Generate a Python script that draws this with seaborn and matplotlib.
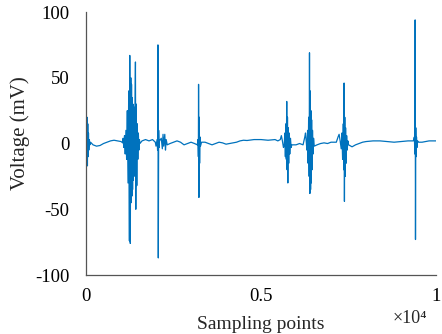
import matplotlib
matplotlib.use('Agg')
import matplotlib.pyplot as plt
import seaborn as sns
import pandas as pd

# Waveform: sample index and voltage (mV)
samples = [
    0, 10, 20, 30, 40, 50, 60, 70, 80, 95, 110, 130,
    200, 300, 400, 500, 600, 700, 800, 900, 1000, 1050,
    1060, 1080, 1100, 1120, 1140, 1160, 1180, 1200, 1220, 1240, 1250, 1265,
    1280, 1290, 1300, 1310, 1320, 1330, 1340, 1350, 1360, 1370, 1380, 1390,
    1400, 1412, 1422, 1435, 1450, 1465, 1480, 1495, 1510, 1525, 1540,
    1600, 1700, 1800, 1900, 1980, 2000,
    2030, 2045, 2055, 2065, 2075, 2085, 2100, 2150, 2180, 2200, 2220, 2250,
    2270, 2290, 2320,
    2400, 2500, 2600, 2700, 2800, 2900, 3000, 3100, 3180,
    3200, 3210, 3215, 3225, 3235, 3245, 3255, 3270, 3300,
    3400, 3500, 3600, 3700, 3800, 3900, 4000, 4200, 4300, 4400, 4500, 4600,
    4800, 5000, 5200, 5400, 5480,
    5550, 5580, 5610, 5640, 5660, 5680, 5695, 5710, 5722, 5734, 5745, 5755,
    5765, 5775, 5790, 5805, 5820, 5840, 5860, 5880,
    5900, 6000, 6100, 6200,
    6250, 6270, 6290, 6310, 6330, 6345, 6360, 6375, 6384, 6395, 6405, 6415,
    6425, 6435, 6445, 6455, 6470, 6485, 6500, 6520,
    6600, 6700, 6800, 6900, 7000, 7150,
    7200, 7230, 7260, 7290, 7310, 7330, 7350, 7365, 7373, 7382, 7392, 7402,
    7415, 7430, 7445, 7460, 7480, 7500,
    7600, 7700, 7800, 7900, 8000, 8200, 8400, 8600, 8800, 9000, 9200, 9350,
    9380, 9395, 9402, 9412, 9420, 9430, 9440, 9455, 9470, 9500,
    9600, 9800, 10000,
]
voltage_mv = [
    0, 18, -15, 20, -17, 15, -10, 8, -5, 3, -1, 1,
    -1, -2, -1.5, 0, 1, 2, 2.5, 2, 1.5, 0.5,
    4, -3, 6, -8, 10, -12, 25, -30, 40, -74, 67, -76,
    50, -45, 45, -40, 35, -35, 30, -28, 28, -25, 22, -20,
    25, 62, -50, 30, -32, 15, -12, 8, -5, 3, 0,
    2, 3, 2, 3, 1, -2,
    3, -5, 75, -87, 10, -3, 2, 4, -4, 7, -2, 7,
    -5, 3, -1,
    0, 1, 2, 1, -1, 0, 1, 0, -1,
    3, -10, 45, -41, 20, -15, 5, -2, 1,
    1, 0, -1, 0, 1, 0.5, -0.5, 0.5, 1, 2, 2.5, 2.3,
    3, 3, 2.5, 3, 2,
    3, 6, 2, -3, -2, 8, -10, 15, -12, 32, -20, 20,
    -30, 12, -15, 8, -8, 4, -3, -1,
    -1, -1, 0, -1,
    5, 8, 2, -5, 10, -15, 20, -25, 69, -38, 40, -35,
    25, -30, 18, -20, 10, -8, 4, -2,
    -1, 0, 0.5, 0, 1, 1,
    5, 7, 2, -4, 8, -12, 15, -20, 46, -44, 20, -25,
    12, -15, 6, -5, 2, -1,
    -2.5, -1, 0, 1, 1.5, 2, 2, 1.5, 1, 1.5, 2, 2,
    5, -8, 94, -73, 12, -10, 5, -3, 2, 1,
    1, 2, 2,
]
x_ticks = [0, 2500, 5000, 7500, 10000]
x_tick_labels = ['0', '', '0.5', '', '1']
y_ticks = [-100, -50, 0, 50, 100]

df = pd.DataFrame({'sample': samples, 'voltage': voltage_mv})

sns.set_style('white')
plt.rcParams['font.family'] = ['Liberation Serif', 'DejaVu Serif']
plt.rcParams['axes.unicode_minus'] = False

fig = plt.figure(figsize=(4.42, 3.34), dpi=100)
ax = fig.add_axes([0.1946, 0.1766, 0.792, 0.7874])
sns.lineplot(data=df, x='sample', y='voltage', estimator=None, sort=False,
             color='#0072BD', linewidth=0.9, ax=ax)

ax.set_xlim(0, 10000)
ax.set_ylim(-100, 100)
ax.set_xticks(x_ticks)
ax.set_xticklabels(x_tick_labels)
ax.set_yticks(y_ticks)
ax.tick_params(direction='in', length=4, width=0.8, colors='#333333',
               labelcolor='black', labelsize=13.5)
ax.tick_params(axis='y', pad=12)
ax.tick_params(axis='x', pad=9)
for side in ['top', 'right']:
    ax.spines[side].set_visible(False)
for side in ['left', 'bottom']:
    ax.spines[side].set_color('#555555')
    ax.spines[side].set_linewidth(0.9)

ax.set_xlabel('Sampling points', fontsize=14, labelpad=8)
ax.set_ylabel('Voltage (mV)', fontsize=15)
ax.yaxis.set_label_coords(-0.16, 0.54)
fig.text(0.888, 0.046, '×10⁴', fontsize=13, ha='left', va='center')

fig.savefig('out.png', dpi=100)
